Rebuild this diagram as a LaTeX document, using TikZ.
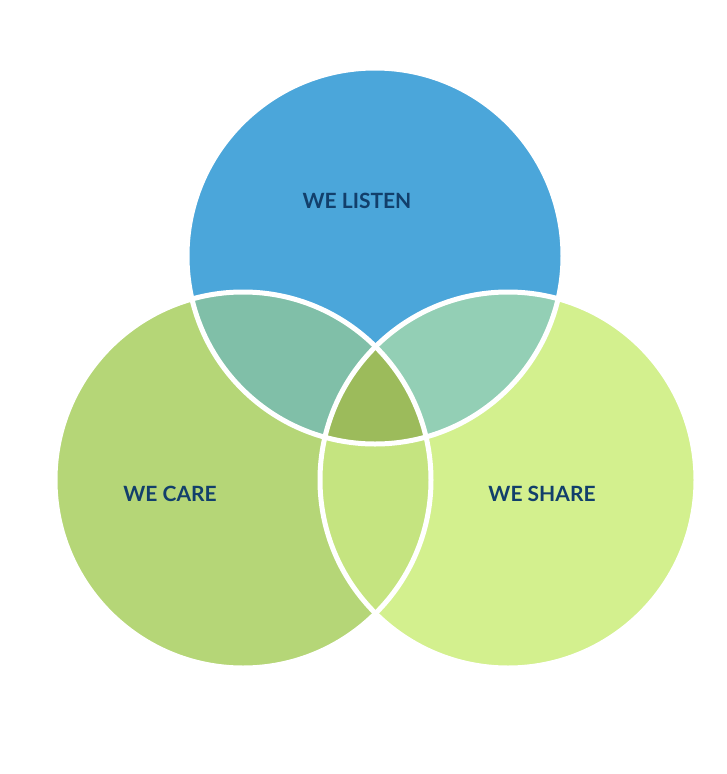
\documentclass[tikz,border=0pt]{standalone}
\usepackage{fontspec}
\setmainfont{Lato}
\definecolor{listen}{HTML}{4BA6DA}
\definecolor{care}{HTML}{B5D677}
\definecolor{share}{HTML}{D3F08E}
\definecolor{lc}{HTML}{80BFA8}
\definecolor{ls}{HTML}{93CFB5}
\definecolor{cs}{HTML}{C5E480}
\definecolor{all}{HTML}{9CBB5B}
\definecolor{navy}{HTML}{123F6B}
\begin{document}
\begin{tikzpicture}[x=1pt,y=-1pt,
	label/.style={text=navy,font=\fontsize{21}{21}\selectfont\bfseries}]
	\useasboundingbox (0,0) rectangle (727,774);
	
	\coordinate (L) at (375,256);
	\coordinate (C) at (243,480);
	\coordinate (S) at (508,480);
	\def\rad{188}
	
	\fill[listen] (L) circle (\rad);
	\fill[care] (C) circle (\rad);
	\fill[share] (S) circle (\rad);
	
	\begin{scope}
		\clip (L) circle (\rad);
		\fill[lc] (C) circle (\rad);
		\fill[ls] (S) circle (\rad);
	\end{scope}
	\begin{scope}
		\clip (C) circle (\rad);
		\fill[cs] (S) circle (\rad);
		\clip (S) circle (\rad);
		\fill[all] (L) circle (\rad);
	\end{scope}
	
	\foreach \c in {L,C,S}
		\draw[white,line width=5] (\c) circle (\rad);
	
	\node[label] (listen) at (357,201) {WE LISTEN};
	\node[label] (care) at (170,494) {WE CARE};
	\node[label] (share) at (542,494) {WE SHARE};
\end{tikzpicture}
\end{document}
